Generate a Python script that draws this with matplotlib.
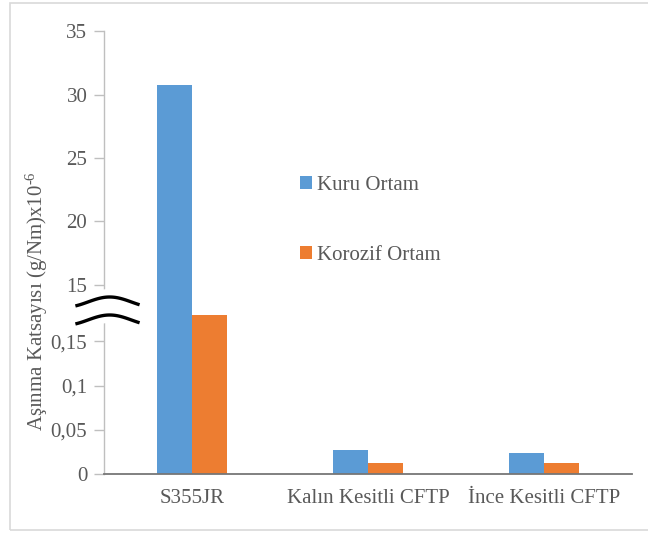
import numpy as np
import matplotlib
matplotlib.use("Agg")
import matplotlib.pyplot as plt
from matplotlib.patches import Rectangle, Polygon

# Data
categories = ["S355JR", "Kalın Kesitli CFTP", "İnce Kesitli CFTP"]
kuru = [30.8, 0.027, 0.024]
korozif = [0.18, 0.013, 0.012]
series_names = ["Kuru Ortam", "Korozif Ortam"]
tick_values = [0, 0.05, 0.1, 0.15, 15, 20, 25, 30, 35]
tick_labels = ["0", "0,05", "0,1", "0,15", "15", "20", "25", "30", "35"]

BLUE = "#5b9bd5"
ORANGE = "#ed7d31"
TEXT = "#595959"

plt.rcParams["font.family"] = ["Liberation Serif", "DejaVu Serif"]
plt.rcParams["mathtext.fontset"] = "custom"
plt.rcParams["mathtext.rm"] = "Liberation Serif"
plt.rcParams["mathtext.it"] = "Liberation Serif:italic"
plt.rcParams["mathtext.bf"] = "Liberation Serif:bold"

# Broken value axis: a fine linear part near zero, a coarse linear part above the break
brk_vals = np.array([-1.0, 0.0, 0.1833, 13.0, 60.0])
brk_pos = np.array([-884.0, 0.0, 162.0, 164.0, 189.3 + 45 * 12.67])


def fwd(v):
    return np.interp(v, brk_vals, brk_pos)


def inv(p):
    return np.interp(p, brk_pos, brk_vals)


W, H = 648, 533
fig = plt.figure(figsize=(W / 100, H / 100), dpi=100)

# outer frame
fig.patches.append(Rectangle((10 / W, 3 / H), 700 / W, 527 / H, transform=fig.transFigure,
                             fill=False, edgecolor="#d9d9d9", linewidth=1.2))

ax_left, ax_right = 104 / W, 632 / W
ax_bottom, ax_top = (H - 474) / H, (H - 31.3) / H
ax = fig.add_axes([ax_left, ax_bottom, ax_right - ax_left, ax_top - ax_bottom])
ax.set_yscale("function", functions=(fwd, inv))
ax.set_ylim(0, 35)
ax.set_xlim(-0.5, 2.5)

x = np.arange(len(categories))
bw = 0.2
ax.bar(x - bw / 2, kuru, bw, color=BLUE, label=series_names[0], zorder=2)
ax.bar(x + bw / 2, korozif, bw, color=ORANGE, label=series_names[1], zorder=2)

ax.set_yticks(tick_values)
ax.set_yticklabels(tick_labels)
ax.minorticks_off()
ax.tick_params(axis="y", direction="out", length=7, width=1, color="#bfbfbf",
               labelsize=15, labelcolor=TEXT, pad=5)
ax.set_xticks(x)
ax.set_xticklabels(categories)
ax.tick_params(axis="x", length=0, labelsize=15, labelcolor=TEXT, pad=11)

for s in ["top", "right"]:
    ax.spines[s].set_visible(False)
ax.spines["left"].set_color("#bfbfbf")
ax.spines["left"].set_linewidth(1)
ax.spines["bottom"].set_color("#767676")
ax.spines["bottom"].set_linewidth(1.3)
ax.spines["bottom"].set_zorder(3)

# Axis break symbol drawn in figure pixel coordinates
xs = np.linspace(77, 138, 60)
t = (xs - 77) / 61
wave = -np.sin(np.pi * (1.4 * t - 0.25))
y1 = 302 + 5 * wave
y2 = 320 + 5 * wave


def to_fig(px, py):
    return px / W, (H - py) / H


poly = np.vstack([np.column_stack(to_fig(xs, y1 - 8)),
                  np.column_stack(to_fig(xs[::-1], y2[::-1] + 8))])
fig.patches.append(Polygon(poly, closed=True, transform=fig.transFigure,
                           facecolor="white", edgecolor="none", zorder=5))
for yy in (y1, y2):
    fx, fy = to_fig(xs, yy)
    fig.add_artist(plt.Line2D(fx, fy, transform=fig.transFigure, color="black",
                              linewidth=2.4, zorder=6))

# Legend
leg = ax.legend(loc="upper left", bbox_to_anchor=((281 - 104) / (632 - 104), (474 - 157) / 442.7),
                frameon=False, fontsize=15, handlelength=0.6, handleheight=0.6,
                handletextpad=0.25, labelspacing=2.45, labelcolor=TEXT)

fig.text(37 / W, (H - 301) / H, "Aşınma Katsayısı (g/Nm)x10$^{\\mathrm{\u2010}6}$", rotation=90,
         ha="center", va="center", fontsize=15, color=TEXT)

fig.savefig("out.png", dpi=100)
